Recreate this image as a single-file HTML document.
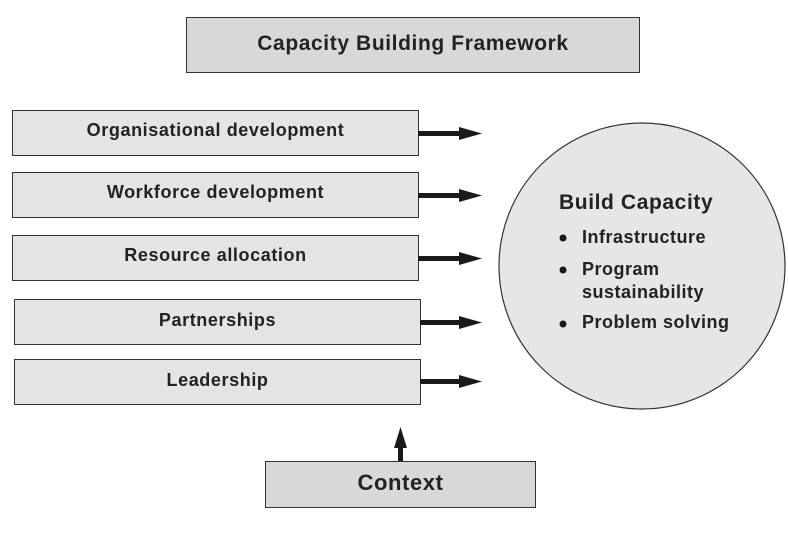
<!DOCTYPE html>
<html><head><meta charset="utf-8"><style>
html,body{margin:0;padding:0;background:#fff;}
body{width:788px;height:534px;position:relative;overflow:hidden;font-family:"Liberation Sans",sans-serif;color:#222;}
.b{position:absolute;background:#e4e4e4;border:1px solid #333;box-sizing:border-box;display:flex;align-items:center;justify-content:center;font-weight:bold;font-size:18px;letter-spacing:0.6px;}
.t{position:absolute;font-weight:bold;white-space:nowrap;letter-spacing:0.5px;}
</style></head><body>
<div class="b" style="left:186px;top:17px;width:454px;height:56px;font-size:21px;background:#d8d8d8;padding-bottom:2px;">Capacity Building Framework</div>
<div class="b" style="left:12px;top:110px;width:407px;height:46px;padding-bottom:6px;">Organisational development</div>
<div class="b" style="left:12px;top:172px;width:407px;height:46px;padding-bottom:5px;">Workforce development</div>
<div class="b" style="left:12px;top:235px;width:407px;height:46px;padding-bottom:6px;">Resource allocation</div>
<div class="b" style="left:14px;top:299px;width:407px;height:46px;padding-bottom:4px;">Partnerships</div>
<div class="b" style="left:14px;top:359px;width:407px;height:46px;padding-bottom:4px;">Leadership</div>
<div class="b" style="left:265px;top:461px;width:271px;height:47px;font-size:22px;background:#d8d8d8;padding-bottom:3px;">Context</div>
<svg width="788" height="534" style="position:absolute;left:0;top:0">
<circle cx="642" cy="266" r="143" fill="#e6e6e6" stroke="#333" stroke-width="1.2"/>
<g fill="#1a1a1a">
<rect x="418" y="131" width="44" height="5"/><polygon points="459,127 482,133.5 459,140"/>
<rect x="418" y="193" width="44" height="5"/><polygon points="459,189 482,195.5 459,202"/>
<rect x="418" y="256" width="44" height="5"/><polygon points="459,252 482,258.5 459,265"/>
<rect x="420" y="320" width="42" height="5"/><polygon points="459,316 482,322.5 459,329"/>
<rect x="420" y="379" width="42" height="5"/><polygon points="459,375 482,381.5 459,388"/>
<rect x="398" y="445" width="5" height="16"/><polygon points="394,448 400.5,427 407,448"/>
<circle cx="563" cy="238" r="3.5"/><circle cx="563" cy="270" r="3.5"/><circle cx="563" cy="324" r="3.5"/>
</g>
</svg>
<div class="t" style="left:559px;top:191px;font-size:21px;letter-spacing:0.6px;">Build Capacity</div>
<div class="t" style="left:582px;top:227px;font-size:18px;">Infrastructure</div>
<div class="t" style="left:582px;top:258px;font-size:18px;line-height:23px;">Program<br>sustainability</div>
<div class="t" style="left:582px;top:312px;font-size:18px;">Problem solving</div>
</body></html>
